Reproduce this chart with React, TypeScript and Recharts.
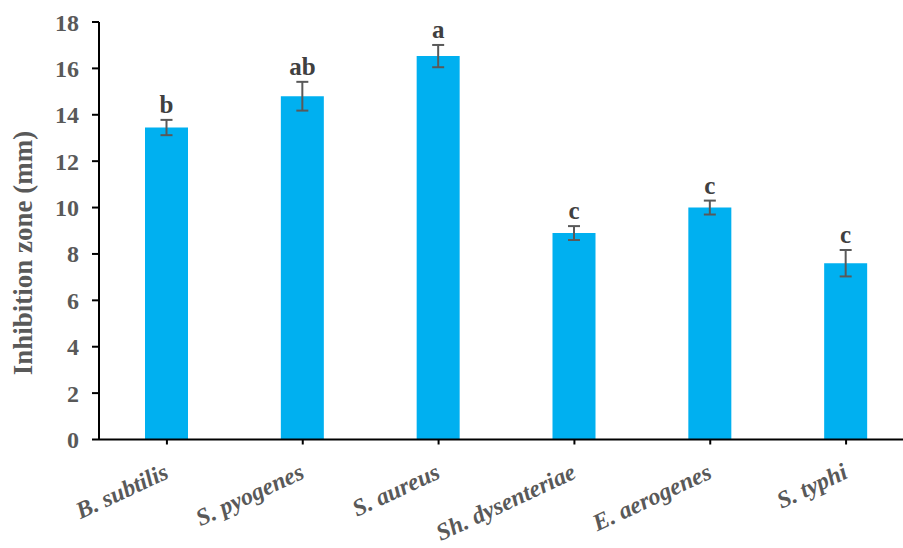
import { BarChart, Bar, XAxis, YAxis, ErrorBar, LabelList } from 'recharts';

const strains = ['B. subtilis', 'S. pyogenes', 'S. aureus', 'Sh. dysenteriae', 'E. aerogenes', 'S. typhi'];
const zoneMeans = [13.45, 14.8, 16.53, 8.9, 10.0, 7.6];
const zoneErrors = [0.33, 0.62, 0.48, 0.3, 0.3, 0.57];
const groupLetters = ['b', 'ab', 'a', 'c', 'c', 'c'];
const yTicks = [0, 2, 4, 6, 8, 10, 12, 14, 16, 18];

const data = strains.map((name, i) => ({
  name,
  mean: zoneMeans[i],
  err: zoneErrors[i],
  letter: groupLetters[i],
}));

const FONT = 'Liberation Serif, Times New Roman, serif';
const TEXT_GRAY = '#595959';

function StrainTick({ x, y, payload }: any) {
  return (
    <g transform={`translate(${x},${y})`}>
      <text
        x={3}
        y={31}
        textAnchor="end"
        transform="rotate(-25, 3, 31)"
        fontFamily={FONT}
        fontSize={24}
        fontWeight="bold"
        fontStyle="italic"
        fill={TEXT_GRAY}
      >
        {payload.value}
      </text>
    </g>
  );
}

// letter sits just above the top whisker of each error bar
function LetterLabel(props: any) {
  const { x, y, width, height, index } = props;
  const pxPerUnit = height / zoneMeans[index];
  const whiskerTop = y - zoneErrors[index] * pxPerUnit;
  return (
    <text
      x={x + width / 2}
      y={whiskerTop - 7}
      textAnchor="middle"
      fontFamily={FONT}
      fontSize={25}
      fontWeight="bold"
      fill="#404040"
    >
      {groupLetters[index]}
    </text>
  );
}

function YTitle() {
  return (
    <text
      x={32}
      y={253}
      transform="rotate(-90, 32, 253)"
      textAnchor="middle"
      fontFamily={FONT}
      fontSize={27}
      fontWeight="bold"
      fill={TEXT_GRAY}
    >
      Inhibition zone (mm)
    </text>
  );
}

export default function App() {
  return (
    <div
      style={{
        position: 'absolute',
        left: 0,
        top: 0,
        width: 903,
        height: 548,
        overflow: 'hidden',
        background: '#fff',
      }}
    >
      <BarChart
        width={920}
        height={548}
        data={data}
        margin={{ top: 22, right: 6, left: 0, bottom: 0 }}
        barSize={43}
      >
        <XAxis
          dataKey="name"
          height={108.5}
          tick={<StrainTick />}
          tickSize={5}
          tickMargin={2}
          axisLine={{ stroke: '#000', strokeWidth: 2 }}
          tickLine={{ stroke: '#000', strokeWidth: 2 }}
          interval={0}
        />
        <YAxis
          width={99}
          domain={[0, 18]}
          ticks={yTicks}
          interval={0}
          tickSize={7}
          tickMargin={13}
          axisLine={{ stroke: '#000', strokeWidth: 2 }}
          tickLine={{ stroke: '#000', strokeWidth: 2 }}
          tick={{ fontFamily: FONT, fontSize: 24, fontWeight: 'bold', fill: TEXT_GRAY }}
          label={{ content: () => <YTitle /> }}
        />
        <Bar dataKey="mean" fill="#00B0F0" isAnimationActive={false}>
          <ErrorBar dataKey="err" width={6} stroke="#595959" strokeWidth={2} isAnimationActive={false} />
          <LabelList dataKey="letter" content={<LetterLabel />} />
        </Bar>
      </BarChart>
    </div>
  );
}
